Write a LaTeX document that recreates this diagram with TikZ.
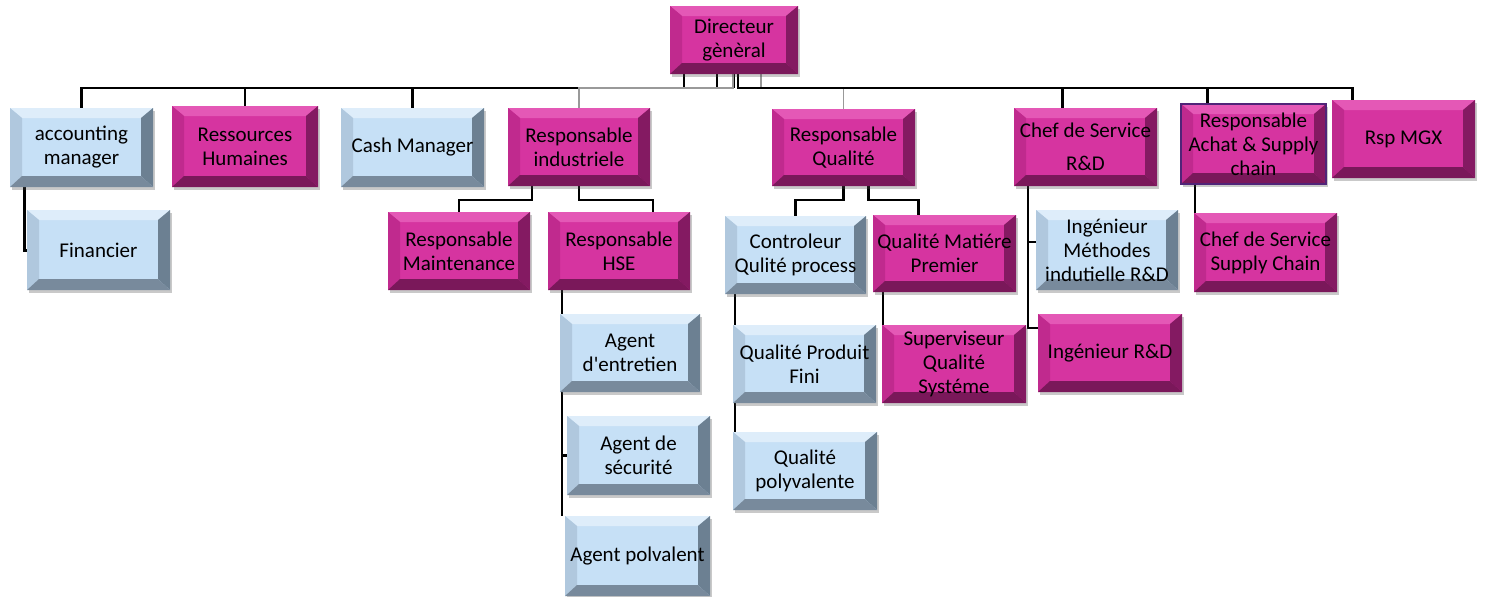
\documentclass[tikz,border=0pt]{standalone}
\usepackage{fontspec}
\setmainfont{Carlito}[Ligatures=TeXOff]
\usetikzlibrary{shadows,backgrounds}
\definecolor{magF}{RGB}{214,52,160}
\definecolor{magT}{RGB}{228,88,182}
\definecolor{magL}{RGB}{192,42,142}
\definecolor{magR}{RGB}{132,26,98}
\definecolor{magB}{RGB}{122,24,90}
\definecolor{bluF}{RGB}{198,224,246}
\definecolor{bluT}{RGB}{222,237,250}
\definecolor{bluL}{RGB}{176,200,222}
\definecolor{bluR}{RGB}{108,128,146}
\definecolor{bluB}{RGB}{120,138,156}
\definecolor{achatB}{RGB}{80,36,120}
\newcommand\bevelpic[4]{%
 \fill[#1] (path picture bounding box.north west) -- (path picture bounding box.north east) -- ([xshift=-12pt,yshift=-10pt]path picture bounding box.north east) -- ([xshift=12pt,yshift=-10pt]path picture bounding box.north west) -- cycle;
 \fill[#2] (path picture bounding box.north west) -- (path picture bounding box.south west) -- ([xshift=12pt,yshift=11pt]path picture bounding box.south west) -- ([xshift=12pt,yshift=-10pt]path picture bounding box.north west) -- cycle;
 \fill[#3] (path picture bounding box.north east) -- (path picture bounding box.south east) -- ([xshift=-12pt,yshift=11pt]path picture bounding box.south east) -- ([xshift=-12pt,yshift=-10pt]path picture bounding box.north east) -- cycle;
 \fill[#4] (path picture bounding box.south west) -- (path picture bounding box.south east) -- ([xshift=-12pt,yshift=11pt]path picture bounding box.south east) -- ([xshift=12pt,yshift=11pt]path picture bounding box.south west) -- cycle;
}
\tikzset{
  box/.style={rectangle, inner sep=0pt, outer sep=0pt, align=center,
    font=\fontsize{21}{24}\selectfont, text=black,
    drop shadow={shadow xshift=2pt, shadow yshift=-3pt, opacity=0.3, fill=black!70}},
  magbox/.style={box, fill=magF, path picture={\bevelpic{magT}{magL}{magR}{magB}}},
  blubox/.style={box, fill=bluF, path picture={\bevelpic{bluT}{bluL}{bluR}{bluB}}},
  sz/.style 2 args={minimum width=#1pt, minimum height=#2pt},
  conn/.style={draw=black, line width=2.2pt},
  gconn/.style={draw=black!40, line width=1.6pt},
}
\begin{document}
\begin{tikzpicture}[x=1pt,y=-1pt]
\useasboundingbox (0,0) rectangle (1486,597);
% ---- nodes ----
\path
  (734,40)      node[magbox, sz={128}{68}] (dir)   {Directeur\\gènèral}
  (81.5,147.5)  node[blubox, sz={143}{79}] (acc)   {accounting\\manager}
  (245,146.5)   node[magbox, sz={146}{81}] (rh)    {Ressources\\Humaines}
  (412.5,147.5) node[blubox, sz={143}{79}] (cash)  {Cash Manager}
  (579,147)     node[magbox, sz={142}{78}] (indus) {Responsable\\industriele}
  (843.5,147.5) node[magbox, sz={143}{77}] (qual)  {Responsable\\Qualité}
  (1085.5,147)  node[magbox, sz={143}{78}] (rd)    {Chef de Service\\[9pt]R\&D}
  (1253.5,144)  node[magbox, sz={145}{80}, draw=achatB, line width=1.2pt] (achat) {Responsable\\Achat \& Supply\\chain}
  (1403.5,139)  node[magbox, sz={143}{78}] (mgx)   {Rsp MGX}
  (98.5,250)    node[blubox, sz={143}{80}] (fin)   {Financier}
  (459,251)     node[magbox, sz={142}{78}] (maint) {Responsable\\Maintenance}
  (619,251)     node[magbox, sz={142}{78}] (hse)   {Responsable\\HSE}
  (795.5,255)   node[blubox, sz={141}{78}] (ctrl)  {Controleur\\Qulité process}
  (944.5,253.5) node[magbox, sz={143}{77}] (mat)   {Qualité Matiére\\Premier}
  (1107,250)    node[blubox, sz={142}{80}] (meth)  {Ingénieur\\Méthodes\\indutielle R\&D}
  (1265.5,252.5) node[magbox, sz={143}{79}] (sc)   {Chef de Service\\Supply Chain}
  (630,353)     node[blubox, sz={140}{78}] (ent)   {Agent\\d'entretien}
  (638.5,455.5) node[blubox, sz={143}{79}] (sec)   {Agent de\\sécurité}
  (637.5,556)   node[blubox, sz={145}{80}] (poly)  {Agent polvalent}
  (804.5,364)   node[blubox, sz={143}{78}] (fini)  {Qualité Produit\\Fini}
  (805,471)     node[blubox, sz={144}{78}] (qpoly) {Qualité\\polyvalente}
  (954,364)     node[magbox, sz={144}{78}] (sup)   {Superviseur\\Qualité\\Systéme}
  (1110,353)    node[magbox, sz={144}{78}] (ird)   {Ingénieur R\&D};
% ---- connectors (behind nodes) ----
\begin{scope}[on background layer]
  % director to first level (bus at y = 88)
  \draw[conn] ([xshift=-50pt]dir.south) -- ++(0,14) -| (acc.north);
  \draw[conn] ([xshift=-50pt]dir.south) -- ++(0,14) -| (rh.north);
  \draw[conn] ([xshift=-17pt]dir.south) -- ++(0,14) -| (cash.north);
  \draw[conn] (dir.south) -- ++(0,14);
  \draw[gconn] ([xshift=-1pt]dir.south) -- ++(0,14) -| (indus.north);
  \draw[gconn] ([xshift=27pt]dir.south) -- ++(0,14) -| (qual.north);
  \draw[conn] ([xshift=4pt]dir.south) -- ++(0,14) -| ([xshift=-23pt]rd.north);
  \draw[conn] ([xshift=4pt]dir.south) -- ++(0,14) -| ([xshift=-46pt]achat.north);
  \draw[conn] ([xshift=4pt]dir.south) -- ++(0,14) -| ([xshift=-51pt]mgx.north);
  % accounting -> financier
  \draw[conn, line width=3pt] ([xshift=14pt]acc.south west) |- (fin.west);
  % industriele -> maintenance, HSE
  \draw[conn] ([xshift=-47pt]indus.south) -- ++(0,14) -| (maint.north);
  \draw[conn] (indus.south) -- ++(0,14) -| ([xshift=34pt]hse.north);
  % HSE -> agents
  \draw[conn] ([xshift=14pt]hse.south west) |- (ent.west);
  \draw[conn] ([xshift=14pt]hse.south west) |- (sec.west);
  \draw[conn] ([xshift=14pt]hse.south west) -- ([xshift=14pt]hse.south west |- poly.north);
  % qualite -> controleur, matiere
  \draw[conn] (qual.south) -- ++(0,14) -| (ctrl.north);
  \draw[conn] ([xshift=25pt]qual.south) -- ++(0,14) -| ([xshift=-26pt]mat.north);
  % controleur -> produit fini, polyvalente
  \draw[conn] ([xshift=10pt]ctrl.south west) |- (fini.west);
  \draw[conn] ([xshift=10pt]ctrl.south west) -- ([xshift=10pt]ctrl.south west |- qpoly.north);
  % matiere -> superviseur
  \draw[conn] ([xshift=10pt]mat.south west) |- (sup.west);
  % R&D -> methodes, ingenieur
  \draw[conn] ([xshift=14pt]rd.south west) |- ([yshift=8pt]meth.west);
  \draw[conn] ([xshift=14pt]rd.south west) |- ([yshift=25pt]ird.west);
  % achat -> supply chain
  \draw[conn] ([xshift=14pt]achat.south west) |- ([yshift=10pt]sc.west);
\end{scope}
\end{tikzpicture}
\end{document}
